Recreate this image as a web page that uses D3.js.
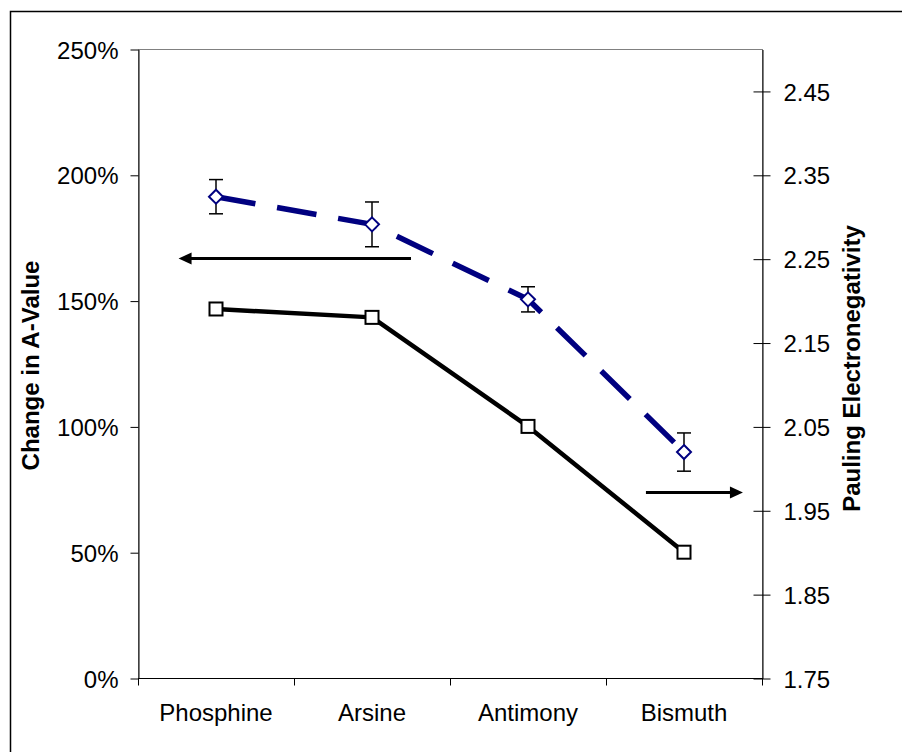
<!DOCTYPE html>
<html>
<head>
<meta charset="utf-8">
<script src="https://cdn.jsdelivr.net/npm/d3@7"></script>
<style>
  html, body { margin: 0; padding: 0; background: #fff; }
  svg { display: block; font-family: "Liberation Sans", Arial, sans-serif; }
</style>
</head>
<body>
<svg id="chart" width="902" height="752"></svg>
<script>
// Group 15 hydrides: change in A-value (left axis) vs. Pauling electronegativity (right axis)
const categories = ["Phosphine", "Arsine", "Antimony", "Bismuth"];
const aValueChange = [1.913, 1.803, 1.505, 0.898];     // fraction, shown as %
const aValueError = [0.068, 0.089, 0.050, 0.076];      // ± error
const electronegativity = [2.19, 2.18, 2.05, 1.90];

const leftTicks = [0, 0.5, 1.0, 1.5, 2.0, 2.5];
const rightTicks = [1.75, 1.85, 1.95, 2.05, 2.15, 2.25, 2.35, 2.45];

// Pointer arrows: category-position start/end and the y value (on the right axis)
const arrows = [
  { from: 1.25, to: -0.24, y: 2.251 },   // points to left axis (A-value series)
  { from: 2.756, to: 3.378, y: 1.972 }   // points to right axis (electronegativity series)
];

const svg = d3.select("#chart");
const plot = { left: 138, right: 762, top: 49, bottom: 678 };

const x = d3.scaleBand().domain(categories).range([plot.left, plot.right]).paddingInner(0).paddingOuter(0);
const xPos = d3.scaleLinear().domain([-0.5, categories.length - 0.5]).range([plot.left, plot.right]);
const yLeft = d3.scaleLinear().domain([0, 2.5]).range([plot.bottom, plot.top]);
const yRight = d3.scaleLinear().domain([1.75, 2.5]).range([plot.bottom, plot.top]);

// Outer chart frame
svg.append("rect")
  .attr("x", 10.5).attr("y", 11.5)
  .attr("width", 900).attr("height", 800)
  .attr("fill", "none").attr("stroke", "#000").attr("stroke-width", 1.5);

// Plot area border
svg.append("rect")
  .attr("x", plot.left + 0.5).attr("y", plot.top + 0.5)
  .attr("width", plot.right - plot.left).attr("height", plot.bottom - plot.top)
  .attr("fill", "none").attr("stroke", "#808080").attr("stroke-width", 1);

const fontSize = 24;

// Left axis
const leftAxis = svg.append("g").attr("transform", `translate(${plot.left + 0.5},0.5)`)
  .call(d3.axisLeft(yLeft).tickValues(leftTicks).tickSizeInner(8).tickSizeOuter(0)
    .tickPadding(12).tickFormat(d3.format(".0%")));
leftAxis.selectAll("text").attr("font-size", fontSize).attr("fill", "#000")
  .attr("font-family", "Liberation Sans, Arial, sans-serif").attr("dy", "0.36em");
leftAxis.selectAll("line, path").attr("stroke", "#000");

// Right axis (ticks cross the axis line)
const rightAxis = svg.append("g").attr("transform", `translate(${plot.right + 0.5},0.5)`)
  .call(d3.axisRight(yRight).tickValues(rightTicks).tickSizeInner(8).tickSizeOuter(0)
    .tickPadding(13).tickFormat(d3.format(".2f")));
rightAxis.selectAll(".tick line").attr("x1", -9);
rightAxis.selectAll("text").attr("font-size", fontSize).attr("fill", "#000")
  .attr("font-family", "Liberation Sans, Arial, sans-serif").attr("dy", "0.36em");
rightAxis.selectAll("line, path").attr("stroke", "#000");

// Category axis with ticks at band boundaries
const xAxisG = svg.append("g").attr("transform", `translate(0,${plot.bottom + 0.5})`);
xAxisG.append("line")
  .attr("x1", plot.left).attr("x2", plot.right + 1)
  .attr("stroke", "#000");
const boundaries = categories.map(c => x(c)).concat([x(categories[categories.length - 1]) + x.bandwidth()]);
xAxisG.selectAll(".cat-tick").data(boundaries).join("line")
  .attr("class", "cat-tick")
  .attr("x1", d => Math.round(d) + 0.5).attr("x2", d => Math.round(d) + 0.5)
  .attr("y1", 0).attr("y2", 7).attr("stroke", "#000");
xAxisG.selectAll(".cat-label").data(categories).join("text")
  .attr("class", "cat-label")
  .attr("x", d => x(d) + x.bandwidth() / 2)
  .attr("y", 42.5)
  .attr("text-anchor", "middle").attr("font-size", fontSize).attr("fill", "#000")
  .text(d => d);

// Axis titles
svg.append("text")
  .attr("transform", `translate(38.5,${(plot.top + plot.bottom) / 2 + 2}) rotate(-90)`)
  .attr("text-anchor", "middle").attr("font-size", fontSize).attr("font-weight", "bold")
  .text("Change in A-Value");
svg.append("text")
  .attr("transform", `translate(860,${(plot.top + plot.bottom) / 2 + 5}) rotate(-90)`)
  .attr("text-anchor", "middle").attr("font-size", fontSize).attr("font-weight", "bold")
  .text("Pauling Electronegativity");

const cx = (d, i) => x(categories[i]) + x.bandwidth() / 2;

// Electronegativity series: solid black line with square markers
svg.append("path")
  .datum(electronegativity)
  .attr("fill", "none").attr("stroke", "#000").attr("stroke-width", 4.5)
  .attr("stroke-linejoin", "round")
  .attr("d", d3.line().x(cx).y(d => yRight(d)));
svg.selectAll(".sq").data(electronegativity).join("rect")
  .attr("class", "sq")
  .attr("x", (d, i) => cx(d, i) - 6.5).attr("y", d => yRight(d) - 6.5)
  .attr("width", 13).attr("height", 13)
  .attr("fill", "#fff").attr("stroke", "#000").attr("stroke-width", 2);

// A-value series: dashed navy line
svg.append("path")
  .datum(aValueChange)
  .attr("fill", "none").attr("stroke", "#000080").attr("stroke-width", 5.5)
  .attr("stroke-dasharray", "40,22")
  .attr("d", d3.line().x(cx).y(d => yLeft(d)));

// Error bars
const errG = svg.append("g").attr("stroke", "#000").attr("stroke-width", 1.5);
aValueChange.forEach((v, i) => {
  const px = cx(v, i);
  const yTop = yLeft(v + aValueError[i]);
  const yBot = yLeft(v - aValueError[i]);
  errG.append("line").attr("x1", px).attr("x2", px).attr("y1", yTop).attr("y2", yBot);
  errG.append("line").attr("x1", px - 7).attr("x2", px + 7).attr("y1", yTop).attr("y2", yTop);
  errG.append("line").attr("x1", px - 7).attr("x2", px + 7).attr("y1", yBot).attr("y2", yBot);
});

// Diamond markers
svg.selectAll(".dia").data(aValueChange).join("path")
  .attr("class", "dia")
  .attr("transform", (d, i) => `translate(${cx(d, i)},${yLeft(d)})`)
  .attr("d", "M0,-7L7,0L0,7L-7,0Z")
  .attr("fill", "#fff").attr("stroke", "#000080").attr("stroke-width", 2);

// Pointer arrows
arrows.forEach(a => {
  const x1 = xPos(a.from), x2 = xPos(a.to), yy = Math.round(yRight(a.y)) + 0.5;
  const dir = Math.sign(x2 - x1);
  const headLen = 13, headHalf = 6;
  svg.append("line")
    .attr("x1", x1).attr("x2", x2 - dir * headLen + dir * 1)
    .attr("y1", yy).attr("y2", yy)
    .attr("stroke", "#000").attr("stroke-width", 3);
  svg.append("path")
    .attr("d", `M${x2},${yy}L${x2 - dir * headLen},${yy - headHalf}L${x2 - dir * headLen},${yy + headHalf}Z`)
    .attr("fill", "#000");
});
</script>
</body>
</html>
